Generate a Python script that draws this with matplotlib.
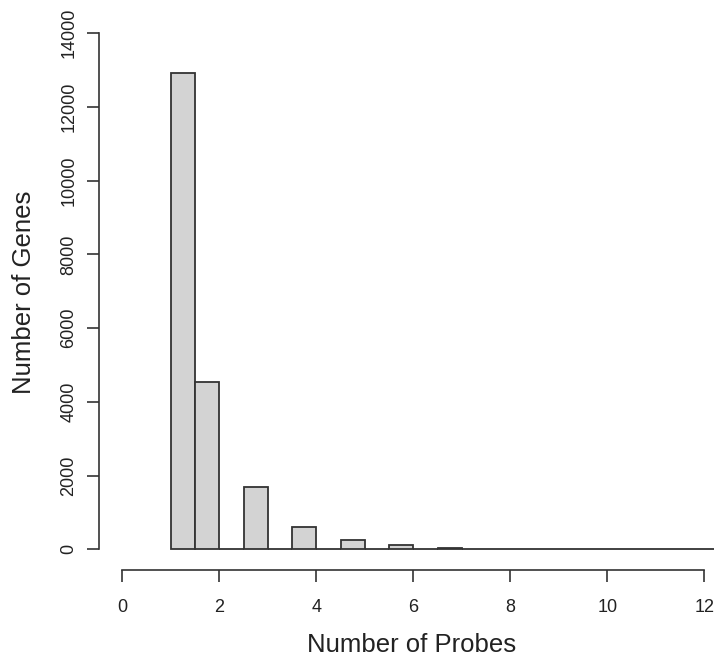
import matplotlib
matplotlib.use("Agg")
import matplotlib.pyplot as plt

# Histogram of probes per gene (bins of width 0.5, right-closed)
bin_edges = [1.0, 1.5, 2.0, 2.5, 3.0, 3.5, 4.0, 4.5, 5.0, 5.5, 6.0, 6.5, 7.0,
             7.5, 8.0, 8.5, 9.0, 9.5, 10.0, 10.5, 11.0, 11.5, 12.0, 12.5, 13.0]
gene_counts = [12920, 4550, 0, 1690, 0, 615, 0, 255, 0, 110, 0, 45,
               0, 22, 0, 10, 0, 6, 0, 4, 0, 3, 0, 2]
x_ticks = [0, 2, 4, 6, 8, 10, 12]
y_ticks = [0, 2000, 4000, 6000, 8000, 10000, 12000, 14000]

plt.rcParams['font.family'] = ['Liberation Sans', 'DejaVu Sans']

W, H = 714, 662
ink = '#333333'
fig = plt.figure(figsize=(W / 100, H / 100), dpi=100)
left, right, top, bottom = 99, 727.6, 12.6, 570
ax = fig.add_axes([left / W, (H - bottom) / H, (right - left) / W, (bottom - top) / H])

ax.hist(bin_edges[:-1], bins=bin_edges, weights=gene_counts,
        color='#d3d3d3', edgecolor=ink, linewidth=1.3)

ax.set_xlim(-0.48, 12.48)
ax.set_ylim(-560, 14560)

for s in ('top', 'right'):
    ax.spines[s].set_visible(False)
ax.spines['left'].set_bounds(0, 14000)
ax.spines['bottom'].set_bounds(0, 12)
for s in ('left', 'bottom'):
    ax.spines[s].set_linewidth(1.2)
    ax.spines[s].set_color(ink)

ax.set_xticks(x_ticks)
ax.set_yticks(y_ticks)
ax.tick_params(direction='out', length=8.4, width=1.2, color=ink,
               labelsize=13, labelcolor='#222222')
ax.tick_params(axis='x', pad=12.5)
ax.tick_params(axis='y', pad=7)
for lab in ax.get_yticklabels():
    lab.set_rotation(90)
    lab.set_va('center')

fig.text(412 / W, 1 - 645 / H, 'Number of Probes', ha='center', va='center',
         fontsize=18.5, color='#222222')
fig.text(24 / W, 1 - 292 / H, 'Number of Genes', ha='center', va='center',
         rotation=90, fontsize=18.5, color='#222222')

fig.savefig('out.png', dpi=100)
